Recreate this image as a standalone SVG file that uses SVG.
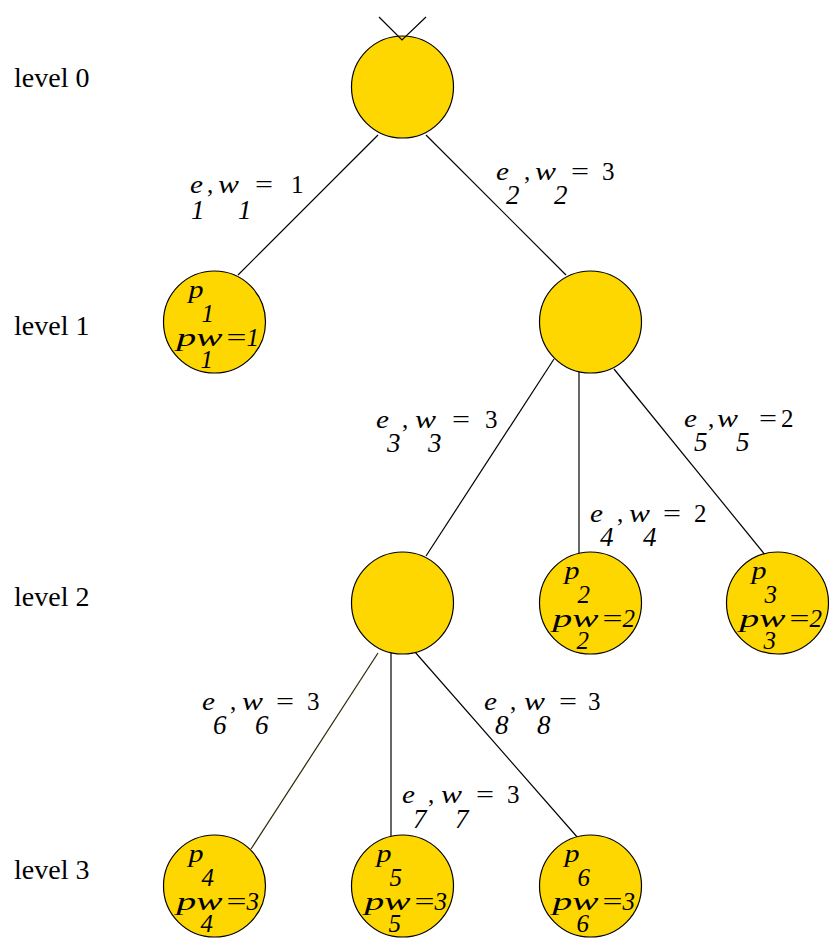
<svg xmlns="http://www.w3.org/2000/svg" width="835" height="951" viewBox="0 0 835 951">
<style>
  .node { fill: #FFD700; stroke: #000; stroke-width: 1.2; }
  .edge { stroke: #000; stroke-width: 1.2; fill: none; }
  .lvl { font-family: "Liberation Serif", "Times New Roman", serif; font-size: 28px; fill: #000; }
  .m { font-family: "Liberation Serif", "Times New Roman", serif; font-size: 25px; fill: #000; }
  .i { font-style: italic; }
  .s { font-style: italic; font-size: 27px; }
</style>
<rect x="0" y="0" width="835" height="951" fill="#fff"/>

<g id="levels">
  <text class="lvl" x="14" y="87">level 0</text>
  <text class="lvl" x="14" y="335">level 1</text>
  <text class="lvl" x="14" y="606">level 2</text>
  <text class="lvl" x="14" y="879">level 3</text>
</g>

<g id="connectors">
  <line class="edge" x1="378" y1="135" x2="238" y2="275"/>
  <line class="edge" x1="426" y1="135" x2="566" y2="275"/>
  <line class="edge" x1="554" y1="359" x2="426" y2="556"/>
  <line class="edge" x1="579" y1="369" x2="579" y2="556"/>
  <line class="edge" x1="614" y1="369" x2="766" y2="556"/>
  <line class="edge" x1="378" y1="653" x2="251" y2="849" style="stroke:#2e2400"/>
  <line class="edge" x1="391" y1="652" x2="391" y2="838"/>
  <line class="edge" x1="415" y1="652" x2="578" y2="838"/>
</g>

<g id="edge-labels" class="m">
  <g id="label-e1">
    <text class="i" x="190" y="193" textLength="13" lengthAdjust="spacingAndGlyphs">e</text><text class="s" x="191" y="219">1</text>
    <text x="207" y="193">,</text>
    <text class="i" x="218" y="193" textLength="21" lengthAdjust="spacingAndGlyphs">w</text><text class="s" x="238" y="219">1</text>
    <text x="255" y="193" textLength="18" lengthAdjust="spacingAndGlyphs">=</text><text x="291" y="193">1</text>
  </g>
  <g id="label-e2">
    <text class="i" x="496" y="180" textLength="13" lengthAdjust="spacingAndGlyphs">e</text><text class="s" x="506" y="204">2</text>
    <text x="524" y="180">,</text>
    <text class="i" x="535" y="180" textLength="21" lengthAdjust="spacingAndGlyphs">w</text><text class="s" x="554" y="204">2</text>
    <text x="571" y="180" textLength="18" lengthAdjust="spacingAndGlyphs">=</text><text x="602" y="180">3</text>
  </g>
  <g id="label-e3">
    <text class="i" x="376" y="428" textLength="13" lengthAdjust="spacingAndGlyphs">e</text><text class="s" x="387" y="452">3</text>
    <text x="402" y="428">,</text>
    <text class="i" x="415" y="428" textLength="21" lengthAdjust="spacingAndGlyphs">w</text><text class="s" x="428" y="452">3</text>
    <text x="452" y="428" textLength="18" lengthAdjust="spacingAndGlyphs">=</text><text x="485" y="428">3</text>
  </g>
  <g id="label-e4">
    <text class="i" x="590" y="522" textLength="13" lengthAdjust="spacingAndGlyphs">e</text><text class="s" x="600" y="546">4</text>
    <text x="617" y="522">,</text>
    <text class="i" x="629" y="522" textLength="21" lengthAdjust="spacingAndGlyphs">w</text><text class="s" x="643" y="546">4</text>
    <text x="663" y="522" textLength="18" lengthAdjust="spacingAndGlyphs">=</text><text x="694" y="522">2</text>
  </g>
  <g id="label-e5">
    <text class="i" x="684" y="427" textLength="13" lengthAdjust="spacingAndGlyphs">e</text><text class="s" x="694" y="451">5</text>
    <text x="708" y="427">,</text>
    <text class="i" x="717" y="427" textLength="21" lengthAdjust="spacingAndGlyphs">w</text><text class="s" x="736" y="451">5</text>
    <text x="759" y="427" textLength="18" lengthAdjust="spacingAndGlyphs">=</text><text x="781" y="427">2</text>
  </g>
  <g id="label-e6">
    <text class="i" x="202" y="710" textLength="13" lengthAdjust="spacingAndGlyphs">e</text><text class="s" x="213" y="734">6</text>
    <text x="230" y="710">,</text>
    <text class="i" x="242" y="710" textLength="21" lengthAdjust="spacingAndGlyphs">w</text><text class="s" x="255" y="734">6</text>
    <text x="276" y="710" textLength="18" lengthAdjust="spacingAndGlyphs">=</text><text x="307" y="710">3</text>
  </g>
  <g id="label-e7">
    <text class="i" x="402" y="803" textLength="13" lengthAdjust="spacingAndGlyphs">e</text><text class="s" x="413" y="828">7</text>
    <text x="428" y="803">,</text>
    <text class="i" x="441" y="803" textLength="21" lengthAdjust="spacingAndGlyphs">w</text><text class="s" x="455" y="828">7</text>
    <text x="476" y="803" textLength="18" lengthAdjust="spacingAndGlyphs">=</text><text x="507" y="803">3</text>
  </g>
  <g id="label-e8">
    <text class="i" x="484" y="710" textLength="13" lengthAdjust="spacingAndGlyphs">e</text><text class="s" x="495" y="734">8</text>
    <text x="510" y="710">,</text>
    <text class="i" x="524" y="710" textLength="21" lengthAdjust="spacingAndGlyphs">w</text><text class="s" x="537" y="734">8</text>
    <text x="559" y="710" textLength="18" lengthAdjust="spacingAndGlyphs">=</text><text x="588" y="710">3</text>
  </g>
</g>

<g id="root">
  <circle class="node" cx="402.5" cy="87" r="51"/>
  <polyline class="edge" points="379,17 402,40 426,17"/>
</g>
<g id="p1" class="m">
  <circle class="node" cx="214.5" cy="322" r="51"/>
  <text class="i" x="188.5" y="298" textLength="15" lengthAdjust="spacingAndGlyphs">p</text><text class="i" x="201.5" y="322">1</text>
  <text class="i" x="176.5" y="346" textLength="46" lengthAdjust="spacingAndGlyphs">pw</text><text x="226.5" y="346" textLength="20" lengthAdjust="spacingAndGlyphs">=</text><text class="i" x="246.5" y="346">1</text>
  <text class="i" x="200.5" y="368">1</text>
</g>
<g id="n1">
  <circle class="node" cx="590.5" cy="322" r="51"/>
</g>
<g id="n2">
  <circle class="node" cx="402.5" cy="603" r="51"/>
</g>
<g id="p2" class="m">
  <circle class="node" cx="590.5" cy="603" r="51"/>
  <text class="i" x="564.5" y="579" textLength="15" lengthAdjust="spacingAndGlyphs">p</text><text class="i" x="577.5" y="603">2</text>
  <text class="i" x="552.5" y="627" textLength="46" lengthAdjust="spacingAndGlyphs">pw</text><text x="602.5" y="627" textLength="20" lengthAdjust="spacingAndGlyphs">=</text><text class="i" x="622.5" y="627">2</text>
  <text class="i" x="576.5" y="649">2</text>
</g>
<g id="p3" class="m">
  <circle class="node" cx="777.5" cy="603" r="51"/>
  <text class="i" x="751.5" y="579" textLength="15" lengthAdjust="spacingAndGlyphs">p</text><text class="i" x="764.5" y="603">3</text>
  <text class="i" x="739.5" y="627" textLength="46" lengthAdjust="spacingAndGlyphs">pw</text><text x="789.5" y="627" textLength="20" lengthAdjust="spacingAndGlyphs">=</text><text class="i" x="809.5" y="627">2</text>
  <text class="i" x="763.5" y="649">3</text>
</g>
<g id="p4" class="m">
  <circle class="node" cx="214.5" cy="886" r="51"/>
  <text class="i" x="188.5" y="862" textLength="15" lengthAdjust="spacingAndGlyphs">p</text><text class="i" x="201.5" y="886">4</text>
  <text class="i" x="176.5" y="910" textLength="46" lengthAdjust="spacingAndGlyphs">pw</text><text x="226.5" y="910" textLength="20" lengthAdjust="spacingAndGlyphs">=</text><text class="i" x="246.5" y="910">3</text>
  <text class="i" x="200.5" y="932">4</text>
</g>
<g id="p5" class="m">
  <circle class="node" cx="402.5" cy="886" r="51"/>
  <text class="i" x="376.5" y="862" textLength="15" lengthAdjust="spacingAndGlyphs">p</text><text class="i" x="389.5" y="886">5</text>
  <text class="i" x="364.5" y="910" textLength="46" lengthAdjust="spacingAndGlyphs">pw</text><text x="414.5" y="910" textLength="20" lengthAdjust="spacingAndGlyphs">=</text><text class="i" x="434.5" y="910">3</text>
  <text class="i" x="388.5" y="932">5</text>
</g>
<g id="p6" class="m">
  <circle class="node" cx="590.5" cy="886" r="51"/>
  <text class="i" x="564.5" y="862" textLength="15" lengthAdjust="spacingAndGlyphs">p</text><text class="i" x="577.5" y="886">6</text>
  <text class="i" x="552.5" y="910" textLength="46" lengthAdjust="spacingAndGlyphs">pw</text><text x="602.5" y="910" textLength="20" lengthAdjust="spacingAndGlyphs">=</text><text class="i" x="622.5" y="910">3</text>
  <text class="i" x="576.5" y="932">6</text>
</g>
</svg>
